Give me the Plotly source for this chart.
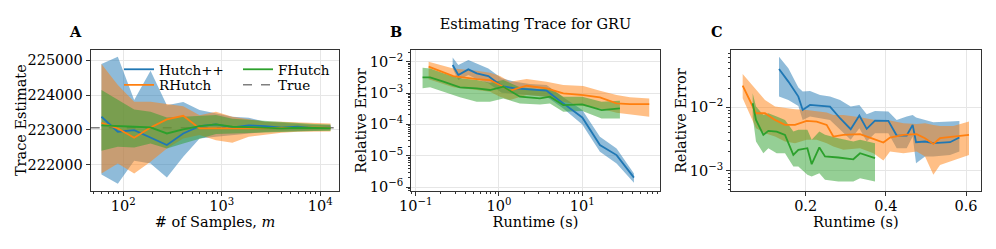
import plotly.graph_objects as go

FONT = "DejaVu Serif"
C_BLUE, C_ORANGE, C_GREEN = "#1f77b4", "#ff7f0e", "#2ca02c"
F_BLUE, F_ORANGE, F_GREEN = "rgba(31,119,180,0.5)", "rgba(255,127,14,0.5)", "rgba(44,160,44,0.5)"

# ---------------- Panel A: trace estimate vs # of samples ----------------
SAMPLES = [60, 88, 129, 189, 277, 406, 595, 873, 1280, 1876, 2750, 4032, 5911, 8667, 12706]
A_HPP = [223375, 222942, 222990, 222780, 222558, 222894, 223106, 223154, 223067, 223125, 223106, 223058, 223087, 223048, 223067]
A_HPP_HI = [224894, 225106, 223856, 224700, 223710, 223800, 223567, 223470, 223375, 223346, 223230, 223200, 223163, 223135, 223135]
A_HPP_LO = [221712, 221442, 222106, 222030, 221625, 222221, 222750, 222800, 222846, 222894, 222933, 222952, 222971, 222971, 222990]
A_RH = [223200, 223038, 222770, 223067, 223298, 223404, 223038, 223030, 223038, 223038, 223048, 223058, 223058, 223058, 223058]
A_RH_HI = [224894, 224290, 223810, 223810, 223740, 223680, 223420, 223520, 223375, 223300, 223230, 223230, 223212, 223200, 223183]
A_RH_LO = [221740, 222030, 221740, 222077, 222462, 222750, 222846, 222700, 222625, 222800, 222865, 222913, 222942, 222952, 222952]
A_FH = [223125, 223115, 223087, 223067, 222894, 223010, 223106, 223154, 223087, 223077, 223058, 223038, 223058, 223048, 223048]
A_FH_HI = [224144, 223856, 223587, 223520, 223355, 223375, 223394, 223423, 223316, 223288, 223240, 223212, 223192, 223163, 223154]
A_FH_LO = [222394, 222510, 222490, 222606, 222462, 222606, 222750, 222875, 222894, 222913, 222933, 222942, 222952, 222962, 222962]
TRUE_TRACE = 223060
A_YTICKS = [222000, 223000, 224000, 225000]
A_YTICKTEXT = ["222000", "223000", "224000", "225000"]
A_XTICKS = [100, 1000, 10000]
A_XTICKTEXT = ["10<sup>2</sup>", "10<sup>3</sup>", "10<sup>4</sup>"]

# ---------------- Panel B: relative error vs runtime (GRU) ----------------
B_HPP_T = [0.278, 0.325, 0.429, 0.540, 0.745, 1.076, 1.556, 2.355, 3.733, 5.916, 10.0, 16.29, 25.82, 41.7]
B_HPP = [7.83e-3, 3.75e-3, 5.69e-3, 4.25e-3, 3.49e-3, 1.67e-3, 1.41e-3, 1.31e-3, 1.19e-3, 4.68e-4, 1.67e-4, 2.19e-5, 1.05e-5, 2.0e-6]
B_HPP_HI = [1.37e-2, 7.83e-3, 1.13e-2, 8.85e-3, 6.12e-3, 2.94e-3, 2.30e-3, 1.94e-3, 1.80e-3, 7.28e-4, 2.86e-4, 4.04e-5, 1.71e-5, 2.73e-6]
B_HPP_LO = [6.12e-3, 2.60e-3, 3.75e-3, 2.80e-3, 2.04e-3, 1.03e-3, 9.3e-4, 8.6e-4, 7.6e-4, 3.24e-4, 1.0e-4, 1.34e-5, 5.7e-6, 1.37e-6]
B_RH_T = [0.143, 0.283, 0.540, 0.780, 1.028, 1.355, 2.148, 3.733, 5.916, 10.28, 16.29, 25.82, 37.33, 63.68]
B_RH = [6.92e-3, 3.49e-3, 2.80e-3, 2.60e-3, 1.80e-3, 1.19e-3, 1.71e-3, 1.41e-3, 9.75e-4, 8.63e-4, 7.28e-4, 4.68e-4, 4.46e-4, 4.46e-4]
B_RH_HI = [1.0e-2, 6.12e-3, 5.16e-3, 4.46e-3, 3.49e-3, 2.30e-3, 2.80e-3, 2.30e-3, 1.80e-3, 1.67e-3, 1.19e-3, 8.63e-4, 7.28e-4, 6.76e-4]
B_RH_LO = [2.73e-3, 1.52e-3, 1.25e-3, 1.10e-3, 7.63e-4, 5.98e-4, 8.63e-4, 7.63e-4, 5.28e-4, 3.85e-4, 3.24e-4, 2.36e-4, 2.08e-4, 1.76e-4]
B_FH_T = [0.121, 0.149, 0.215, 0.340, 0.540, 0.780, 1.127, 1.786, 3.105, 4.093, 5.916, 10.0, 17.06, 28.31]
B_FH = [3.16e-3, 3.16e-3, 2.30e-3, 1.52e-3, 1.41e-3, 1.25e-3, 1.59e-3, 7.63e-4, 6.76e-4, 7.63e-4, 4.14e-4, 4.35e-4, 2.86e-4, 3.24e-4]
B_FH_HI = [6.44e-3, 6.12e-3, 4.25e-3, 2.94e-3, 2.60e-3, 2.14e-3, 2.60e-3, 1.52e-3, 1.31e-3, 1.41e-3, 7.63e-4, 7.63e-4, 5.28e-4, 5.69e-4]
B_FH_LO = [1.41e-3, 1.52e-3, 1.10e-3, 7.28e-4, 5.28e-4, 5.28e-4, 6.76e-4, 4.68e-4, 4.35e-4, 4.68e-4, 2.54e-4, 2.67e-4, 1.55e-4, 1.55e-4]
B_XTICKS = [0.1, 1, 10]
B_XTICKTEXT = ["10<sup>\u22121</sup>", "10<sup>0</sup>", "10<sup>1</sup>"]
B_YTICKS = [1e-6, 1e-5, 1e-4, 1e-3, 1e-2]
B_YTICKTEXT = ["10<sup>\u22126</sup>", "10<sup>\u22125</sup>", "10<sup>\u22124</sup>", "10<sup>\u22123</sup>", "10<sup>\u22122</sup>"]

# ---------------- Panel C: relative error vs runtime ----------------
C_HPP_T = [0.1335, 0.1568, 0.1817, 0.1925, 0.2108, 0.2358, 0.2607, 0.2857, 0.3123, 0.3339, 0.3522, 0.3730, 0.4062, 0.4270, 0.4520, 0.4669, 0.4753, 0.4977, 0.5185, 0.5601, 0.5834]
C_HPP = [0.0400, 0.0253, 0.0147, 9.08e-3, 0.01088, 0.01062, 0.01024, 6.72e-3, 4.51e-3, 7.40e-3, 4.57e-3, 6.17e-3, 6.10e-3, 3.59e-3, 3.59e-3, 5.28e-3, 2.82e-3, 2.89e-3, 2.72e-3, 2.82e-3, 3.34e-3]
C_HPP_HI = [0.0625, 0.0410, 0.02037, 0.01762, 0.01805, 0.01562, 0.01471, 0.01304, 0.01024, 0.01088, 7.76e-3, 8.76e-3, 8.55e-3, 6.32e-3, 7.14e-3, 7.58e-3, 6.88e-3, 6.32e-3, 5.81e-3, 5.95e-3, 6.10e-3]
C_HPP_LO = [0.01471, 0.01304, 0.01049, 6.32e-3, 7.14e-3, 6.72e-3, 6.32e-3, 4.41e-3, 3.07e-3, 4.68e-3, 2.89e-3, 3.91e-3, 3.91e-3, 2.27e-3, 2.27e-3, 3.46e-3, 1.32e-3, 1.68e-3, 1.68e-3, 1.78e-3, 2.01e-3]
C_RH_T = [0.0428, 0.0761, 0.0985, 0.1235, 0.1484, 0.1734, 0.2025, 0.2274, 0.2524, 0.2690, 0.2940, 0.3356, 0.3688, 0.3938, 0.4104, 0.4437, 0.4769, 0.4977, 0.5185, 0.5351, 0.5684, 0.6075]
C_RH = [0.0219, 8.05e-3, 8.05e-3, 6.32e-3, 5.28e-3, 5.28e-3, 6.10e-3, 5.95e-3, 5.28e-3, 3.46e-3, 3.68e-3, 3.77e-3, 3.18e-3, 2.79e-3, 3.34e-3, 3.68e-3, 3.77e-3, 3.26e-3, 2.65e-3, 3.26e-3, 3.46e-3, 3.68e-3]
C_RH_HI = [0.0334, 0.0192, 0.0130, 0.01024, 9.64e-3, 9.30e-3, 9.08e-3, 8.55e-3, 8.25e-3, 7.58e-3, 7.58e-3, 6.97e-3, 6.32e-3, 5.95e-3, 6.17e-3, 5.61e-3, 5.47e-3, 5.61e-3, 5.28e-3, 5.09e-3, 5.09e-3, 5.95e-3]
C_RH_LO = [0.01384, 4.68e-3, 3.91e-3, 3.46e-3, 2.89e-3, 2.72e-3, 3.07e-3, 3.07e-3, 2.72e-3, 2.41e-3, 2.14e-3, 2.27e-3, 1.89e-3, 1.45e-3, 2.01e-3, 1.89e-3, 2.01e-3, 1.68e-3, 8.65e-4, 1.24e-3, 1.45e-3, 1.78e-3]
C_FH_T = [0.0678, 0.0761, 0.0944, 0.1069, 0.1277, 0.1484, 0.1692, 0.1817, 0.2042, 0.2150, 0.2341, 0.2482, 0.2815, 0.3189, 0.3356, 0.3730]
C_FH = [0.01156, 6.32e-3, 3.68e-3, 4.25e-3, 4.15e-3, 3.68e-3, 1.78e-3, 2.14e-3, 2.27e-3, 1.27e-3, 2.33e-3, 1.68e-3, 1.62e-3, 1.52e-3, 1.89e-3, 1.58e-3]
C_FH_HI = [0.0166, 0.01024, 7.58e-3, 8.05e-3, 7.14e-3, 6.32e-3, 4.15e-3, 4.41e-3, 4.41e-3, 3.07e-3, 4.15e-3, 3.68e-3, 3.26e-3, 2.89e-3, 3.07e-3, 2.72e-3]
C_FH_LO = [7.14e-3, 2.89e-3, 1.89e-3, 2.27e-3, 1.89e-3, 1.89e-3, 1.17e-3, 1.17e-3, 8.65e-4, 8.15e-4, 9.19e-4, 7.22e-4, 6.80e-4, 6.80e-4, 7.67e-4, 6.80e-4]
C_XTICKS = [0.2, 0.4, 0.6]
C_XTICKTEXT = ["0.2", "0.4", "0.6"]
C_YTICKS = [1e-3, 1e-2]
C_YTICKTEXT = ["10<sup>\u22123</sup>", "10<sup>\u22122</sup>"]

W, H = 996, 249
TICK_SIZE = 14.5
TITLE_SIZE = 14.5
LEGEND_SIZE = 13.5


def px_x(a, b):
    return [a / W, b / W]


def px_y(top, bottom):
    return [1 - bottom / H, 1 - top / H]


def minor_log(lo_exp, hi_exp):
    return [m * 10 ** e for e in range(lo_exp, hi_exp) for m in range(2, 10)]


fig = go.Figure()


def band(x, lo, hi, fill, xa, ya):
    fig.add_trace(go.Scatter(x=list(x) + list(x)[::-1], y=list(hi) + list(lo)[::-1],
                             fill="toself", fillcolor=fill, mode="lines", line=dict(width=0),
                             showlegend=False, hoverinfo="skip", xaxis=xa, yaxis=ya))


def line(x, y, color, xa, ya, name=None, legend="legend"):
    fig.add_trace(go.Scatter(x=x, y=y, mode="lines", line=dict(color=color, width=1.8),
                             name=name, showlegend=name is not None, legend=legend,
                             xaxis=xa, yaxis=ya))


# Panel A (legend laid out as 2 columns x 2 rows, one legend box per entry)
band(SAMPLES, A_HPP_LO, A_HPP_HI, F_BLUE, "x", "y")
band(SAMPLES, A_RH_LO, A_RH_HI, F_ORANGE, "x", "y")
band(SAMPLES, A_FH_LO, A_FH_HI, F_GREEN, "x", "y")
line(SAMPLES, A_HPP, C_BLUE, "x", "y", "Hutch++", "legend")
line(SAMPLES, A_RH, C_ORANGE, "x", "y", "RHutch", "legend2")
line(SAMPLES, A_FH, C_GREEN, "x", "y", "FHutch", "legend3")
# legend entry for the horizontal "True" reference line (drawn as a shape below)
fig.add_trace(go.Scatter(x=[None], y=[None], mode="lines", name="True",
                         line=dict(color="#7f7f7f", width=1.6, dash="dash"),
                         legend="legend4", xaxis="x", yaxis="y"))

# Panel B
band(B_HPP_T, B_HPP_LO, B_HPP_HI, F_BLUE, "x2", "y2")
band(B_RH_T, B_RH_LO, B_RH_HI, F_ORANGE, "x2", "y2")
band(B_FH_T, B_FH_LO, B_FH_HI, F_GREEN, "x2", "y2")
line(B_HPP_T, B_HPP, C_BLUE, "x2", "y2")
line(B_RH_T, B_RH, C_ORANGE, "x2", "y2")
line(B_FH_T, B_FH, C_GREEN, "x2", "y2")

# Panel C
band(C_HPP_T, C_HPP_LO, C_HPP_HI, F_BLUE, "x3", "y3")
band(C_RH_T, C_RH_LO, C_RH_HI, F_ORANGE, "x3", "y3")
band(C_FH_T, C_FH_LO, C_FH_HI, F_GREEN, "x3", "y3")
line(C_HPP_T, C_HPP, C_BLUE, "x3", "y3")
line(C_RH_T, C_RH, C_ORANGE, "x3", "y3")
line(C_FH_T, C_FH, C_GREEN, "x3", "y3")

fig.add_shape(type="line", xref="x domain", x0=0, x1=1, yref="y", y0=TRUE_TRACE, y1=TRUE_TRACE,
              line=dict(color="#7f7f7f", width=1.6, dash="dash"), layer="below")

AX_COLOR = "#333333"
common = dict(showline=True, linecolor=AX_COLOR, linewidth=1, mirror=True,
              ticks="outside", ticklen=4, tickwidth=1, tickcolor=AX_COLOR,
              showgrid=True, gridcolor="#e6e6e6", gridwidth=1, zeroline=False,
              tickmode="array", automargin=False,
              tickfont=dict(family=FONT, size=TICK_SIZE, color="black"),
              title_font=dict(family=FONT, size=TITLE_SIZE, color="black"))
xcommon = dict(common, ticklabelstandoff=-2)
minor_common = dict(ticks="outside", ticklen=2, tickwidth=0.8, tickcolor=AX_COLOR, showgrid=False, tickmode="array")

PLOT_TOP, PLOT_BOTTOM = 50, 190.8
ydom = px_y(PLOT_TOP, PLOT_BOTTOM)
fig.update_layout(
    xaxis=dict(xcommon, type="log", domain=px_x(90.7, 339.3), range=[1.669, 4.193],
               tickvals=A_XTICKS, ticktext=A_XTICKTEXT, anchor="y",
               minor=dict(minor_common, tickvals=minor_log(1, 5)),
               title=dict(text="# of Samples, <i>m</i>", standoff=0)),
    yaxis=dict(common, domain=ydom, range=[221240, 225300], anchor="x",
               tickvals=A_YTICKS, ticktext=A_YTICKTEXT),
    xaxis2=dict(xcommon, type="log", domain=px_x(411, 660), range=[-1.056, 1.933],
                tickvals=B_XTICKS, ticktext=B_XTICKTEXT, anchor="y2",
                minor=dict(minor_common, tickvals=minor_log(-2, 2)),
                title=dict(text="Runtime (s)", standoff=0)),
    yaxis2=dict(common, type="log", domain=ydom, range=[-6.118, -1.627], anchor="x2",
                tickvals=B_YTICKS, ticktext=B_YTICKTEXT,
                minor=dict(minor_common, tickvals=minor_log(-7, -1))),
    xaxis3=dict(xcommon, domain=px_x(731, 980.7), range=[0.0137, 0.6366],
                tickvals=C_XTICKS, ticktext=C_XTICKTEXT, anchor="y3",
                title=dict(text="Runtime (s)", standoff=0)),
    yaxis3=dict(common, type="log", domain=ydom, range=[-3.314, -1.0995], anchor="x3",
                tickvals=C_YTICKS, ticktext=C_YTICKTEXT,
                minor=dict(minor_common, tickvals=minor_log(-4, -1))),
)

# y-axis titles
for text, xc in (("Trace Estimate", 21.7), ("Relative Error", 361.7), ("Relative Error", 681.7)):
    fig.add_annotation(text=text, x=xc / W, y=1 - (PLOT_TOP + PLOT_BOTTOM) / 2 / H, xref="paper", yref="paper",
                       xanchor="center", yanchor="middle", textangle=-90, showarrow=False,
                       font=dict(family=FONT, size=TITLE_SIZE, color="black"))

legend_common = dict(font=dict(family=FONT, size=LEGEND_SIZE, color="black"), bgcolor="rgba(0,0,0,0)",
                     borderwidth=0, orientation="v", xanchor="left", yanchor="top",
                     tracegroupgap=0, itemwidth=30)
ROW1, ROW2 = 54, 69.5
COL1, COL2 = 119, 238
fig.update_layout(
    legend=dict(legend_common, x=COL1 / W, y=1 - ROW1 / H),
    legend2=dict(legend_common, x=COL1 / W, y=1 - ROW2 / H),
    legend3=dict(legend_common, x=COL2 / W, y=1 - ROW1 / H),
    legend4=dict(legend_common, x=COL2 / W, y=1 - ROW2 / H),
)

for letter, xc in (("A", 75), ("B", 396), ("C", 717)):
    fig.add_annotation(text="<b>%s</b>" % letter, x=xc / W, y=1 - 31 / H, xref="paper", yref="paper",
                       xanchor="center", yanchor="middle", showarrow=False,
                       font=dict(family=FONT, size=TITLE_SIZE, color="black"))

fig.update_layout(
    template="none",
    width=W, height=H,
    margin=dict(l=0, r=0, t=0, b=0),
    paper_bgcolor="white", plot_bgcolor="white",
    font=dict(family=FONT, size=TICK_SIZE, color="black"),
    title=dict(text="Estimating Trace for GRU", x=535.5 / W, y=1 - 23.5 / H,
               xanchor="center", yanchor="middle", font=dict(family=FONT, size=TITLE_SIZE, color="black")),
    hovermode=False,
)

fig.write_html("out.html", config={"displayModeBar": False},
               post_script="document.body.style.margin='0';document.body.style.overflow='hidden';")
